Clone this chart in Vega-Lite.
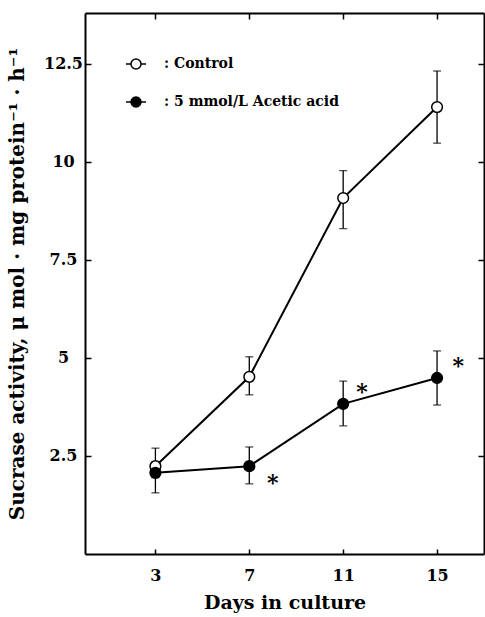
{
  "$schema": "https://vega.github.io/schema/vega-lite/v6.json",
  "width": 399,
  "height": 541,
  "autosize": {"type": "none"},
  "padding": {"left": 85, "top": 13, "right": 1, "bottom": 63},
  "background": "white",
  "datasets": {
    "sucrase": [
      {"day": 3, "group": "Control", "mean": 2.24, "lo": 1.95, "hi": 2.70},
      {"day": 7, "group": "Control", "mean": 4.52, "lo": 4.06, "hi": 5.03},
      {"day": 11, "group": "Control", "mean": 9.08, "lo": 8.30, "hi": 9.78},
      {"day": 15, "group": "Control", "mean": 11.40, "lo": 10.48, "hi": 12.32},
      {"day": 3, "group": "5 mmol/L Acetic acid", "mean": 2.07, "lo": 1.56, "hi": 2.35},
      {"day": 7, "group": "5 mmol/L Acetic acid", "mean": 2.24, "lo": 1.79, "hi": 2.73},
      {"day": 11, "group": "5 mmol/L Acetic acid", "mean": 3.83, "lo": 3.27, "hi": 4.41},
      {"day": 15, "group": "5 mmol/L Acetic acid", "mean": 4.49, "lo": 3.80, "hi": 5.18}
    ],
    "stars": [
      {"day": 8.0, "value": 1.94, "label": "*"},
      {"day": 11.8, "value": 4.26, "label": "*"},
      {"day": 15.9, "value": 4.92, "label": "*"}
    ]
  },
  "data": {"name": "sucrase"},
  "layer": [
    {
      "mark": {"type": "errorbar", "ticks": {"size": 8, "thickness": 1.3, "color": "black"}, "rule": {"strokeWidth": 1.3, "color": "black"}},
      "encoding": {
        "x": {"field": "day", "type": "quantitative", "scale": {"domain": [0, 17], "nice": false, "zero": false},
          "axis": {"orient": "bottom", "values": [3, 7, 11, 15], "tickSize": -5, "labelPadding": 18, "title": "Days in culture", "titlePadding": 10, "grid": false}},
        "y": {"field": "lo", "type": "quantitative", "scale": {"domain": [0, 13.8], "nice": false, "zero": false},
          "axis": {"orient": "left", "values": [2.5, 5, 7.5, 10, 12.5], "format": ".3~g", "tickSize": -6, "labelPadding": 28, "labelAlign": "center",
            "title": "Sucrase activity,  μ mol · mg protein⁻¹ · h⁻¹", "titleFontSize": 20, "titlePadding": 16, "grid": false}},
        "y2": {"field": "hi"}
      }
    },
    {
      "mark": {"type": "line", "color": "black", "strokeWidth": 2},
      "encoding": {
        "x": {"field": "day", "type": "quantitative", "axis": null},
        "y": {"field": "mean", "type": "quantitative", "axis": null},
        "detail": {"field": "group"}
      }
    },
    {
      "mark": {"type": "point", "shape": "circle", "filled": true, "stroke": "black", "strokeWidth": 1.5, "size": 115, "opacity": 1},
      "encoding": {
        "x": {"field": "day", "type": "quantitative", "axis": null},
        "y": {"field": "mean", "type": "quantitative", "axis": null},
        "fill": {"field": "group", "type": "nominal",
          "scale": {"domain": ["Control", "5 mmol/L Acetic acid"], "range": ["white", "black"]},
          "legend": {
            "orient": "top-left", "offset": 40, "padding": 0, "title": null,
            "symbolType": "M-1,0L-0.5,0M0.5,0L1,0M-0.5,0A0.5,0.5,0,1,1,0.5,0A0.5,0.5,0,1,1,-0.5,0Z",
            "symbolSize": 400, "symbolStrokeColor": "black", "symbolStrokeWidth": 1.5,
            "labelFont": "DejaVu Serif", "labelFontWeight": "bold", "labelFontSize": 14, "labelColor": "black",
            "labelOffset": 17, "rowPadding": 19, "labelLimit": 0, "labelExpr": "': ' + datum.label"
          }}
      }
    },
    {
      "data": {"name": "stars"},
      "mark": {"type": "text", "font": "DejaVu Serif", "fontWeight": "bold", "fontSize": 22, "baseline": "alphabetic", "align": "center", "dy": 12, "color": "black"},
      "encoding": {
        "x": {"field": "day", "type": "quantitative", "axis": null},
        "y": {"field": "value", "type": "quantitative", "axis": null},
        "text": {"field": "label"}
      }
    },
    {
      "mark": {"type": "point", "opacity": 0},
      "encoding": {
        "x": {"field": "day", "type": "quantitative",
          "axis": {"orient": "top", "values": [3, 7, 11, 15], "labels": false, "tickSize": -6, "title": null, "grid": false}},
        "y": {"field": "mean", "type": "quantitative",
          "axis": {"orient": "right", "values": [2.5, 5, 7.5, 10, 12.5], "labels": false, "tickSize": -6, "title": null, "grid": false}}
      }
    }
  ],
  "resolve": {"axis": {"x": "independent", "y": "independent"}},
  "config": {
    "view": {"stroke": null},
    "axis": {
      "domainColor": "black", "domainWidth": 2, "tickColor": "black", "tickWidth": 1.5,
      "labelFont": "DejaVu Serif", "labelFontWeight": "bold", "labelFontSize": 16, "labelColor": "black",
      "titleFont": "DejaVu Serif", "titleFontWeight": "bold", "titleFontSize": 19, "titleColor": "black"
    }
  }
}
